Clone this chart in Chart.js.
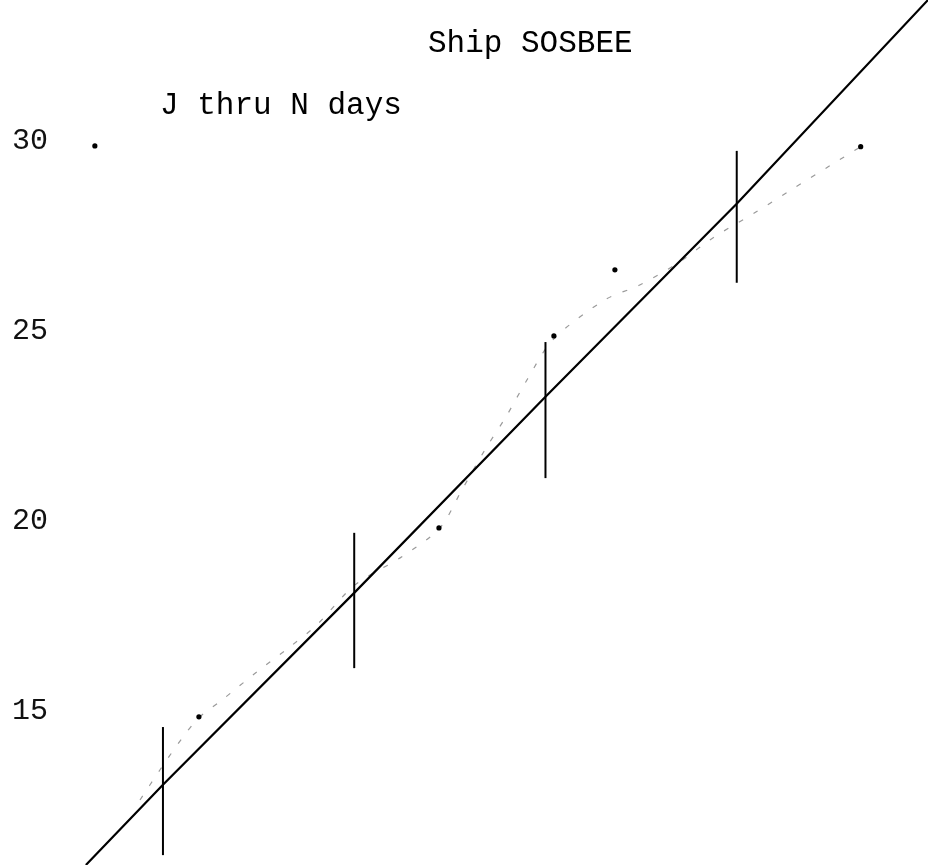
<!DOCTYPE html>
<html><head><meta charset="utf-8">
<script src="https://cdn.jsdelivr.net/npm/chart.js@4/dist/chart.umd.min.js"></script>
<style>
html,body{margin:0;padding:0;background:#fff;}
#wrap{position:relative;width:928px;height:865px;overflow:hidden;}
canvas{position:absolute;left:0;top:0;}
.t{position:absolute;font-family:"Liberation Mono",monospace;font-size:31px;line-height:31px;color:#000;white-space:pre;}
</style></head><body>
<div id="wrap">
<canvas id="c" width="928" height="865"></canvas>
<div class="t" id="title" style="left:428px;top:28px;"></div>
<div class="t" id="sub" style="left:160px;top:90px;"></div>
</div>
<script>
const titleText = "Ship SOSBEE";
const subtitleText = "J thru N days";
const yTickValues = [15, 20, 25, 30];

// vertical range bars (one per period)
const barX = [1, 2, 3, 4];
const barLow = [11.22, 16.14, 21.14, 26.28];
const barHigh = [14.59, 19.70, 24.72, 29.75];

// solid fitted line
const fitX = [0.597, 1, 2, 3, 4, 5.0];
const fitY = [10.96, 13.07, 18.12, 23.28, 28.36, 33.72];

// faint dashed observed curve
const curveX = [0.880, 0.984, 1.105, 1.193, 1.308, 1.491, 1.664, 1.805, 2.004, 2.249, 2.448, 2.563, 2.683, 2.793, 2.903, 3.039, 3.310, 3.493, 3.702, 3.875, 4.100, 4.293, 4.487, 4.648];
const curveY = [12.67, 13.46, 14.33, 14.86, 15.30, 16.04, 16.70, 17.28, 18.33, 19.07, 19.83, 20.83, 21.88, 22.75, 23.72, 24.78, 25.83, 26.22, 26.83, 27.46, 28.14, 28.75, 29.36, 29.86];

// isolated dots
const dotX = [1.188, 2.443, 3.044, 3.363, 4.648, 0.644];
const dotY = [14.86, 19.83, 24.88, 26.62, 29.86, 29.88];

document.getElementById('title').textContent = titleText;
document.getElementById('sub').textContent = subtitleText;

const pts = (xs, ys) => xs.map((x, i) => ({x: x, y: ys[i]}));

const datasets = [];
datasets.push({
  label: 'fit', data: pts(fitX, fitY), showLine: true, borderColor: '#000',
  borderWidth: 2.2, pointRadius: 0, tension: 0, order: 1
});
barX.forEach((x, i) => {
  datasets.push({
    label: 'range' + (i + 1), data: [{x: x, y: barLow[i]}, {x: x, y: barHigh[i]}],
    showLine: true, borderColor: '#000', borderWidth: 2, pointRadius: 0, order: 1
  });
});
datasets.push({
  label: 'observed', data: pts(curveX, curveY), showLine: true, borderColor: '#9a9a9a',
  borderWidth: 1.2, borderDash: [5, 12], pointRadius: 0, tension: 0.3, order: 2
});
datasets.push({
  label: 'dots', data: pts(dotX, dotY), showLine: false, pointRadius: 2.6,
  pointBackgroundColor: '#000', pointBorderWidth: 0, order: 0
});

new Chart(document.getElementById('c'), {
  type: 'scatter',
  data: { datasets: datasets },
  options: {
    responsive: false,
    animation: false,
    devicePixelRatio: 1,
    layout: { padding: 0, autoPadding: false },
    plugins: { legend: { display: false }, tooltip: { enabled: false }, title: { display: false } },
    scales: {
      x: { type: 'linear', min: 0.148, max: 5.0, display: false },
      y: {
        type: 'linear', min: 10.96, max: 33.72, position: 'left',
        grid: { display: false }, border: { display: false },
        afterBuildTicks: (s) => { s.ticks = yTickValues.map(v => ({value: v})); },
        afterFit: (s) => { s.width = 0; s.paddingTop = 0; s.paddingBottom = 0; },
        ticks: {
          mirror: true, padding: 12, color: '#111',
          font: { family: '"Liberation Mono", monospace', size: 30 },
          callback: (v) => String(v)
        }
      }
    }
  }
});
</script>
</body></html>
